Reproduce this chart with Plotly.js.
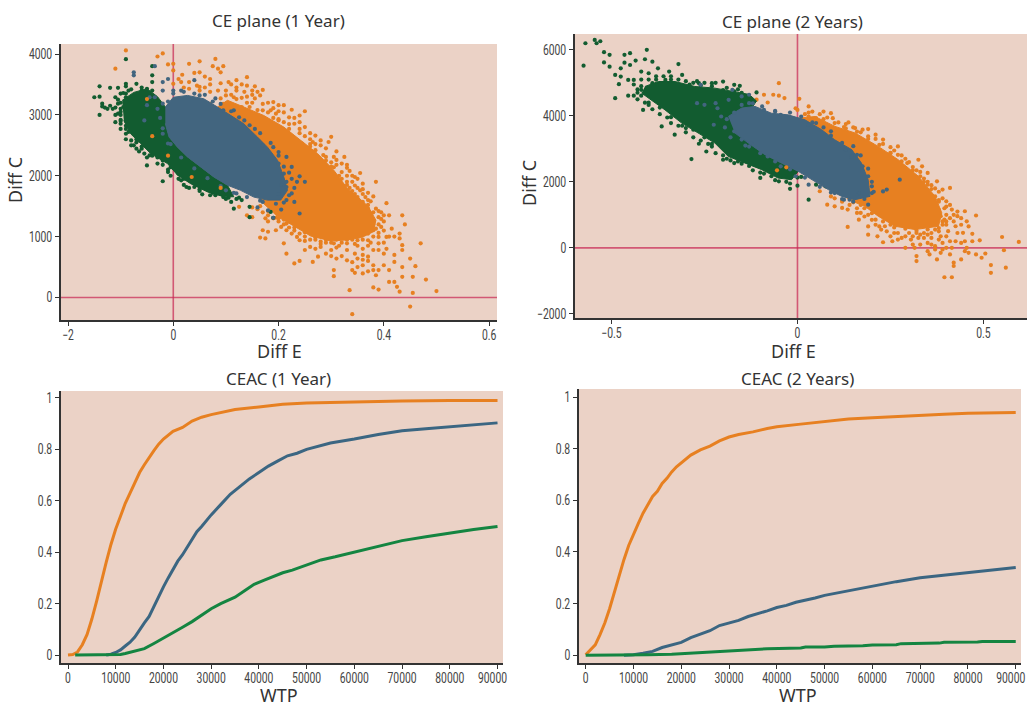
<!DOCTYPE html>
<html><head><meta charset="utf-8">
<script src="https://cdn.plot.ly/plotly-3.0.1.min.js"></script>
<style>html,body{margin:0;padding:0;background:#fff}#c{width:1027px;height:706px}</style>
</head><body><div id="c"></div>
<script>
// ---------- CE plane (1 Year): outline of each saturated cloud body, then individually read points ----------
const ce1OrangeBody=[[.084,3130],[.103,3240],[.134,3130],[.172,2990],[.21,2800],[.242,2580],[.274,2365],[.305,2090],[.331,1790],[.352,1640],[.37,1500],[.385,1270],[.38,1080],[.358,985],[.33,945],[.299,930],[.261,1010],[.229,1175],[.198,1330],[.172,1540],[.115,2145]];
const ce1GreenBody=[[-.097,3240],[-.075,3370],[-.05,3430],[-.03,3300],[-.015,3130],[-.015,2855],[-.008,2635],[.008,2470],[.027,2310],[.052,2145],[.077,1980],[.103,1845],[.115,1655],[.096,1655],[.065,1735],[.033,1870],[.008,2010],[-.011,2200],[-.043,2365],[-.062,2530],[-.081,2690],[-.094,2910]];
const ce1BlueBody=[[-.015,3130],[0,3290],[.027,3320],[.058,3265],[.084,3130],[.109,2990],[.134,2855],[.16,2635],[.179,2470],[.198,2255],[.21,1980],[.217,1760],[.204,1600],[.179,1600],[.153,1650],[.128,1760],[.103,1845],[.077,1980],[.052,2145],[.027,2310],[.008,2470],[-.008,2635],[-.015,2855]];
const ce1Orange=[[-.09,4060],[-.11,3760],[-.03,3960],[-.02,4010],[-.01,3830],[0,3840],[0,3730],[.03,3840],[.05,3880],[.08,3920],[.095,3800],[.075,3800],[.085,3760],[.09,3700],[.017,3660],[.01,3590],[.04,3690],[.05,3700],[.06,3630],[.07,3590],[.14,3620],[.12,3570],[.105,3540],[.14,3480],[.155,3470],[.17,3410],[.015,3540],[.03,3540],[.045,3480],[0,3510],[.05,3460],[.085,3400],[.1,3400],[.12,3400],[.135,3380],[.165,3320],[.155,3270],[.115,3290],[.09,3270],[.07,3180],[.095,3180],[.19,3210],[.2,3160],[.21,3160],[.225,3085],[.25,3060],[.24,2990],[.185,3075],[.195,3020],[.17,3075],[.145,3130],[.13,3130],[.11,3130],[.155,2965],[.14,3020],[.23,2855],[.21,2880],[.2,2910],[.24,2770],[.22,2770],[.25,2650],[.27,2660],[.265,2555],[.28,2500],[.3,2640],[.295,2555],[.245,2530],[.27,2420],[.305,2310],[.325,2310],[.29,2310],[.305,2140],[.32,2060],[.335,2080],[.355,2045],[.345,1980],[.305,1980],[.385,1900],[.36,1870],[.345,1840],[.355,1760],[.38,1660],[.36,1570],[.405,1550],[.37,1460],[.385,1460],[.4,1350],[.435,1350],[.44,1200],[.39,1320],[.375,1270],[.395,1160],[.415,1130],[.43,1050],[.43,970],[.405,995],[.39,995],[.47,890],[.435,860],[.435,780],[.405,800],[.39,890],[.37,940],[.36,800],[.35,940],[.33,890],[.32,995],[.345,720],[.37,670],[.33,610],[.31,640],[.36,530],[.38,530],[.4,530],[.42,585],[.45,640],[.46,515],[.435,500],[.385,365],[.36,395],[.345,405],[.305,450],[.305,350],[.455,340],[.435,340],[.48,295],[.41,255],[.42,255],[.425,175],[.43,95],[.38,165],[.39,130],[.335,120],[.455,75],[.5,105],[.45,-150],[.34,-275],[.15,1320],[.14,1350],[.175,1300],[.17,1105],[.18,1080],[.165,985],[.175,970],[.195,1105],[.215,1105],[.21,890],[.215,720],[.23,560],[.24,600],[.265,585],[.275,670],[.25,780],[.26,830],[.235,995],[.215,1215],[.24,940],[.28,830],[.3,780],[.285,995],[.305,890],[.335,1050],[.355,1050],[.38,1105],[.35,1320],[.375,1380],[.125,1490],[.19,1450],[.2,1300],[.22,1250],[.25,1150],[.27,1050],[.31,1050],[.37,1120],[.33,1000],[.35,1180],[.19,2950],[.17,2920],[.22,2650],[.26,2480],[.31,2180],[.33,1900],[.35,1650],[.37,1600],
[.11,3330],[.13,3280],[.15,3200],[.17,3180],[.19,3110],[.21,3040],[.23,2950],[.25,2800],[.26,2700],[.28,2580],[.29,2450],[.31,2400],[.32,2200],[.33,2000],[.34,1900],[.35,1800],[.36,1700],[.37,1520],[.38,1400],[.39,1200],[.38,1250],[.4,1100],[.38,1000],[.37,1050],[.36,950],[.35,1000],[.34,950],[.33,950],[.32,900],[.31,950],[.3,900],[.29,900],[.28,920],[.27,950],[.26,950],[.25,1000],[.24,1050],[.23,1100],[.22,1150],[.21,1200],[.2,1250],[.19,1300],[.18,1350],[.17,1400],[.16,1450],[.35,850],[.37,850],[.38,780],[.39,780],[.4,720],[.42,700],[.36,700],[.35,640],[.34,580],[.32,680],[.3,680],[.29,720],[.27,800],[.37,600],[.38,450],[.35,500],[.34,450],[.37,430],[.39,450],[.41,450],[.36,620],[.33,780],[.31,820],[.4,900],[.41,1000],[.4,1250],[.42,1000],[.395,1400],[.41,1350],[.06,3450],[.07,3500],[.09,3520],[.11,3500],[.12,3450],[.13,3500],[.15,3400],[.16,3380],[.02,3450],[.03,3430],[.05,3400],[.07,3380],[.1,3320],[.14,3300],[.15,3330],[.18,3200],[.2,3060],[.22,2960],[.24,2880],[.26,2600],[.27,2520],[.29,2250],[.31,2260],[.33,2180],[.34,1750],[.35,1950],[.36,1780],[.37,1720],
[.12,3260],[.14,3200],[.16,3080],[.18,3040],[.2,2930],[.22,2850],[.24,2700],[.26,2520],[.285,2340],[.3,2220],[.32,1950],[.335,1800],[.35,1600],[.365,1420],[.38,1200],[.37,1100],[.35,1010],[.33,1010],[.31,960],[.29,950],[.27,990],[.25,1070],[.23,1150],[.21,1280],[.195,1310],[.18,1420],[.165,1500],[.15,1480],[.36,1520],[.345,1700],[.33,1850],[.315,2000],[.3,2150],
[.395,1290],[.385,1130],[.39,1060],[.375,900],[.345,880],[.315,850],[.28,880],[.25,930],[.225,1050],[.205,1160],[.18,1250],[.33,2130],[.34,2000],[.365,1650],[.375,1580],[.39,1420]];
const ce1OrangeOver=[[-.04,2650],[-.01,2330],[.035,1980],[.09,1800],[-.05,3260]];
const ce1Green=[[-.15,3290],[-.14,3300],[-.14,3000],[-.14,3470],[-.12,3445],[-.135,3185],[-.135,3140],[-.125,3100],[-.115,3100],[-.105,3445],[-.09,3470],[-.09,3510],[-.07,3510],[-.09,3915],[-.04,3800],[-.04,3650],[-.04,3540],[-.11,3290],[-.1,3350],[-.105,3185],[-.105,3020],[-.11,2880],[-.1,2855],[-.1,2770],[-.09,2770],[-.09,2690],[-.08,2580],[-.07,2445],[-.06,2445],[-.055,2365],[-.045,2335],[-.05,2170],[-.03,2200],[-.02,1910],[-.01,2060],[-.005,2140],[.01,2035],[.015,1925],[.025,1815],[.04,1815],[.055,1695],[.07,1680],[.075,1790],[.095,1650],[.11,1570],[.115,1460],[.13,1600],[.145,1320],[.145,1490],[.185,1405],[.19,1310],[-.05,3430],[-.06,3400],[-.09,3290],[-.095,3130],[-.1,3000],[-.09,2900],[-.08,2800],[-.07,2600],[-.055,2500],[-.04,2380],[-.02,2250],[0,2130],[.02,1950],[.045,1900],[.075,1720],[.1,1700],[-.13,3120],[-.12,3150],[-.11,3120],[-.1,3200],[-.095,3360],[-.085,3400],[-.1,3100],[-.11,3000],[-.1,2920],[-.09,2600],[-.08,2500],[-.075,2500],[-.065,2400],[-.05,2300],[-.03,2300],[-.01,2100],[.01,1950],[.03,1800],[.05,1750],[.07,1750],[.09,1700],[.105,1640],[.12,1620],
[-.105,3250],[-.09,3350],[-.08,3420],[-.06,3450],[-.04,3400],[-.1,3050],[-.1,2900],[-.09,2820],[-.085,2720],[-.07,2550],[-.06,2480],[-.04,2330],[-.02,2180],[-.005,2000],[.02,1850],[.05,1780],[.08,1680],[.1,1620],[.125,1640]];
const ce1Blue=[[-.075,3700],[-.075,3650],[-.035,3800],[-.01,3590],[-.02,3540],[.04,3570],[.015,3400],[0,3400],[-.02,3400],[-.035,3290],[-.045,3290],[-.05,3160],[-.03,3100],[-.02,3185],[-.055,2910],[-.02,2690],[-.01,2530],[.05,3320],[.08,3270],[.095,3075],[.115,3075],[.135,2910],[.155,2770],[.17,2500],[.19,2470],[.2,2390],[.215,2310],[.2,2200],[.225,2145],[.21,2035],[.24,1990],[.25,1900],[.235,1900],[.215,1815],[.225,1710],[.215,1600],[.23,1570],[.24,1380],[.205,1445],[.18,1430],[.16,1480],[.19,1310],[.17,1570],[.12,1710],[.1,1760],
[0,3350],[.02,3380],[.04,3350],[.06,3330],[.075,3220],[.09,3180],[.11,3060],[.125,2960],[.145,2830],[.165,2700],[.185,2540],[.2,2330],[.21,2150],[.225,1950],[.23,1800],[.22,1680],[.21,1560],[.195,1540],[.165,1590],[.14,1650],[.115,1720],[.09,1830],[.065,1960],[.04,2120],[.015,2300],[-.005,2520],[-.02,2780],[-.025,2950],[-.01,3220],[.2,1700],[.205,1850],[.22,2050],[.215,1900]];

// ---------- CE plane (2 Years) ----------
const ce2OrangeBody=[[.002,3930],[.047,3980],[.101,3680],[.155,3480],[.217,3075],[.271,2670],[.325,2170],[.37,1560],[.388,1060],[.379,655],[.316,555],[.262,655],[.217,960],[.181,1260],[.137,1460],[.05,2500]];
const ce2GreenBody=[[-.41,4890],[-.374,5040],[-.329,5040],[-.276,4890],[-.222,4840],[-.177,4750],[-.13,4650],[-.11,4450],[-.15,3800],[-.132,3175],[-.087,2820],[-.043,2570],[.002,2320],[-.016,2065],[-.052,2115],[-.096,2370],[-.141,2570],[-.186,2770],[-.222,3175],[-.267,3480],[-.311,3780],[-.356,4180],[-.392,4485],[-.419,4690]];
const ce2BlueBody=[[-.186,3980],[-.15,4235],[-.114,4285],[-.07,4080],[-.025,4030],[.02,3880],[.065,3580],[.1,3275],[.146,2975],[.172,2570],[.19,2065],[.195,1560],[.154,1460],[.119,1560],[.083,1765],[.047,2015],[.002,2320],[-.043,2570],[-.087,2820],[-.132,3175],[-.168,3480]];
const ce2Orange=[[-.05,4990],[-.09,4640],[-.065,4640],[-.05,4610],[-.035,4540],[-.08,4405],[-.11,4490],[.005,4515],[.03,4285],[.04,4130],[.07,4130],[.09,4080],[.095,3930],[.05,3930],[0,4180],[-.005,4230],[.137,3800],[.125,3660],[.155,3630],[.175,3580],[.19,3380],[.21,3430],[.23,3280],[.2,3125],[.25,2870],[.27,3075],[.27,2820],[.295,2570],[.325,2670],[.335,2470],[.35,2270],[.33,2170],[.375,2015],[.35,1915],[.41,1815],[.39,1765],[.37,1560],[.4,1410],[.415,1160],[.45,1110],[.48,980],[.43,960],[.455,805],[.395,855],[.425,655],[.405,505],[.445,455],[.47,425],[.385,350],[.425,200],[.45,200],[.49,230],[.47,200],[.55,330],[.595,180],[.555,-70],[.56,-600],[.52,-520],[.52,-755],[.505,-170],[.48,-200],[.495,-300],[.455,0],[.415,0],[.4,0],[.44,-350],[.42,-450],[.42,-550],[.395,-890],[.415,-890],[.375,-350],[.355,-200],[.385,-150],[.32,-250],[.32,-400],[.29,0],[.315,0],[.35,150],[.305,250],[.255,200],[.23,170],[.215,350],[.19,400],[.27,450],[.325,300],[.37,50],[.19,650],[.165,855],[.135,635],[.16,1060],[.135,1160],[.12,1210],[.1,1260],[.08,1310],[.09,1560],[.06,1715],[.17,1060],[.21,855],[.235,655],[.3,450],[.34,450],[.385,960],[.37,555],[.225,555],[.3,650],[.36,800],[.38,1150],[.17,1300],[.19,1000],[.25,700],[.34,700],[.4,700],[.38,1400],
[.02,4050],[.03,4100],[.06,4050],[.08,3950],[.11,3800],[.13,3750],[.15,3650],[.17,3500],[.19,3600],[.21,3300],[.23,3150],[.25,3050],[.26,2950],[.28,2800],[.29,2700],[.3,2600],[.31,2450],[.32,2350],[.33,2300],[.34,2100],[.35,2000],[.36,1900],[.37,1800],[.38,1700],[.39,1500],[.4,1250],[.41,1300],[.42,1000],[.43,1100],[.44,900],[.41,900],[.4,800],[.42,800],[.39,700],[.38,500],[.36,450],[.35,400],[.34,300],[.33,400],[.32,450],[.31,350],[.29,350],[.28,300],[.26,450],[.24,500],[.22,650],[.21,700],[.2,850],[.18,950],[.16,1200],[.14,1300],[.12,1400],[.1,1500],[.38,250],[.39,150],[.41,200],[.4,350],[.43,450],[.44,700],[.46,650],[.36,100],[.37,-50],[.39,-50],[.36,300],[.35,-100],[.33,100],[.31,100],[.27,250],[.25,350],[.41,-200],[.44,150],[.45,-100],[.46,-150],
[.03,3980],[.07,3900],[.1,3780],[.13,3620],[.16,3520],[.19,3300],[.22,3120],[.25,2880],[.28,2620],[.31,2350],[.34,2000],[.36,1780],[.38,1450],[.395,1200],[.4,1000],[.39,800],[.38,600],[.35,560],[.32,520],[.29,580],[.26,620],[.23,800],[.2,1050],[.18,1200],[.15,1380],[.12,1450]];
const ce2OrangeOver=[[-.055,2350],[-.03,2440]];
const ce2Green=[[-.57,6200],[-.545,6300],[-.54,6200],[-.53,6260],[-.575,5520],[-.52,5930],[-.505,5850],[-.52,5620],[-.505,5490],[-.465,5850],[-.45,5900],[-.405,6000],[-.465,5610],[-.45,5540],[-.435,5675],[-.41,5715],[-.39,5640],[-.475,5440],[-.49,5240],[-.475,5190],[-.48,4960],[-.49,4535],[-.455,5090],[-.44,5090],[-.42,5340],[-.375,5440],[-.4,5290],[-.32,5570],[-.345,5340],[-.31,5240],[-.455,4610],[-.44,4610],[-.42,4610],[-.415,4180],[-.4,4330],[-.365,3680],[-.34,3780],[-.33,3430],[-.3,3630],[-.285,2690],[-.265,3155],[-.245,2920],[-.23,3070],[-.22,2870],[-.2,2670],[-.17,2570],[-.14,2670],[-.1,2120],[-.07,2170],[-.05,2015],[-.02,1790],[0,1885],[.03,1460],[-.2,5040],[-.17,4940],[-.155,4910],[-.23,4990],[-.265,4990],[-.11,4710],[-.14,4590],[-.4,4790],[-.42,4790],[-.39,4990],[-.355,5090],[-.29,4890],[.075,1865],[.05,1915],[-.38,4500],[-.36,4300],[-.33,4100],[-.3,3900],[-.27,3600],[-.24,3400],[-.2,3100],[-.16,2850],[-.11,2500],[-.07,2350],[-.03,2200],[-.4,5100],[-.36,5000],[-.32,5100],[-.28,5000],[-.24,4800],[-.15,4700],
[-.43,4800],[-.44,4950],[-.42,5100],[-.38,5200],[-.36,5200],[-.34,5200],[-.3,5050],[-.27,5050],[-.25,5000],[-.22,5000],[-.19,4850],[-.16,4800],[-.43,4500],[-.41,4400],[-.39,4200],[-.37,4050],[-.35,3950],[-.32,3700],[-.3,3500],[-.28,3350],[-.26,3250],[-.24,3150],[-.2,2800],[-.18,2650],[-.15,2550],[-.12,2350],[-.09,2250],[-.05,2200],[-.02,1950],[.01,2150],
[-.43,4700],[-.42,4900],[-.38,5100],[-.34,5100],[-.29,4950],[-.26,4920],[-.23,4900],[-.2,4780],[-.17,4740],[-.23,3150],[-.25,3350],[-.28,3580],[-.31,3700],[-.34,3960],[-.37,4250],[-.4,4400],[-.19,2700],[-.16,2620],[-.13,2480],[-.1,2280],[-.06,2050],[-.03,2000],[0,2130]];
const ce2Blue=[[-.26,4940],[-.175,4790],[-.15,4590],[-.13,4640],[-.22,4385],[-.25,4335],[-.27,4385],[-.225,3730],[-.205,3980],[-.215,4230],[-.185,4485],[-.17,3530],[-.15,3280],[-.125,3175],[-.13,4385],[-.095,4285],[-.06,4130],[-.045,4030],[.03,3730],[.05,3780],[.09,3530],[.13,2970],[.145,2770],[.16,2820],[.175,2470],[.19,2170],[.2,1660],[.19,1310],[.14,1460],[.125,1460],[.1,1660],[.23,1710],[.24,1765],[.275,2065],[.2,1865],[.03,1915],[.065,1965],[-.005,2170],[-.045,2470],[-.08,2770],[-.13,3070],[.165,1660],
[-.19,3900],[-.17,4100],[-.15,4330],[-.12,4380],[-.09,4180],[-.06,4150],[-.02,4100],[.01,3980],[.04,3800],[.07,3650],[.09,3400],[.12,3180],[.15,3080],[.17,2800],[.19,2400],[.2,2000],[.205,1700],[.18,1480],[.15,1400],[.12,1480],[.09,1680],[.06,1850],[.02,2130],[-.02,2380],[-.06,2620],[-.1,2870],[-.14,3100],[-.18,3350],[-.195,3650]];

// ---------- CEAC curves ----------
const wtpOrange1=[0,1000,2000,3000,4000,5000,6000,7000,8000,9000,10000,11000,12000,13000,14000,15000,16000,17000,18000,19000,20000,22000,24000,26000,28000,30000,35000,40000,45000,50000,60000,70000,80000,90000];
const ceac1Orange=[0,.002,.012,.04,.08,.14,.21,.29,.36,.43,.49,.54,.59,.63,.67,.71,.74,.77,.795,.82,.84,.87,.885,.91,.925,.935,.955,.965,.975,.98,.985,.988,.99,.99];
const wtpBlue1=[8000,9000,10000,11000,12000,13000,14000,15000,16000,17000,18000,19000,20000,21000,22000,23000,24000,25000,26000,27000,28000,30000,32000,34000,36000,38000,40000,42000,44000,46000,48000,50000,55000,60000,65000,70000,75000,80000,85000,90000];
const ceac1Blue=[0,.003,.01,.02,.035,.05,.07,.1,.125,.15,.19,.225,.265,.3,.335,.365,.39,.42,.455,.48,.5,.545,.585,.625,.655,.685,.71,.735,.755,.775,.785,.8,.825,.84,.858,.872,.88,.888,.897,.903];
const wtpGreen1=[1500,10000,11000,12000,14000,16000,18000,20000,22000,24000,26000,28000,30000,32000,35000,37000,39000,41000,43000,45000,47000,50000,53000,56000,60000,65000,70000,75000,80000,85000,90000];
const ceac1Green=[0,0,.002,.006,.015,.025,.045,.065,.085,.108,.13,.155,.18,.2,.225,.25,.275,.29,.305,.32,.33,.35,.37,.382,.4,.42,.445,.46,.475,.488,.5];
const wtpOrange2=[0,1000,2000,3000,4000,5000,6000,7000,8000,9000,10000,11000,12000,13000,14000,15000,16000,17000,18000,19000,20000,22000,24000,26000,28000,30000,32000,35000,38000,40000,45000,50000,55000,60000,65000,70000,75000,80000,85000,89000,90000];
const ceac2Orange=[.002,.02,.04,.08,.125,.18,.245,.31,.37,.425,.47,.51,.55,.585,.615,.635,.665,.685,.71,.73,.745,.775,.795,.81,.83,.845,.855,.865,.878,.885,.895,.905,.915,.92,.925,.93,.933,.937,.938,.94,.94];
const wtpBlue2=[8000,10000,12000,14000,16000,18000,20000,22000,24000,26000,28000,30000,32000,34000,36000,38000,40000,42000,44000,46000,48000,50000,55000,60000,65000,70000,75000,80000,85000,90000];
const ceac2Blue=[0,.002,.008,.015,.03,.04,.05,.068,.082,.095,.115,.125,.135,.15,.16,.172,.185,.193,.205,.213,.222,.232,.25,.268,.285,.3,.31,.322,.332,.34];
const wtpGreen2=[0,12000,13000,18000,20000,25000,28000,30000,35000,38000,45000,46000,50000,52000,58000,60000,65000,66000,74000,75000,82000,83000,90000];
const ceac2Green=[0,0,.002,.004,.006,.01,.014,.017,.02,.025,.028,.032,.032,.035,.037,.04,.041,.045,.047,.05,.051,.053,.053];

// ---------- tick labels and texts ----------
const ce1XVals=[-.2,0,.2,.4,.6], ce1XText=['−2','0','0.2','0.4','0.6'];
const ce1YVals=[0,1000,2000,3000,4000];
const ce2XVals=[-.5,0,.5], ce2XText=['−0.5','0','0.5'];
const ce2YVals=[-2000,0,2000,4000,6000], ce2YText=['−2000','0','2000','4000','6000'];
const wtpVals=[0,10000,20000,30000,40000,50000,60000,70000,80000,90000];
const wtpText=wtpVals.map(String);
const probVals=[0,.2,.4,.6,.8,1];

const W=1027,H=706;
const ORANGE='#E78021',GREEN='#125C30',BLUE='#42657F',LINEBLUE='#3B6682',LINEGREEN='#148541',BG='#EBD2C6',INK='#333333';
const TICKFONT={family:'Roboto,sans-serif',size:14,color:'#444'};
const TITLEFONT={family:'"Noto Sans",sans-serif',size:17,color:INK};
const AXTITLEFONT={family:'"Noto Sans",sans-serif',size:18,color:INK};

function pts(list,xa,ya,color){
  return {type:'scatter',mode:'markers',x:list.map(p=>p[0]),y:list.map(p=>p[1]),xaxis:xa,yaxis:ya,
    marker:{color:color,size:4.2,line:{width:0}},hoverinfo:'skip',showlegend:false};
}
function body(list,xa,ya,color){
  return {type:'scatter',mode:'lines',x:list.map(p=>p[0]),y:list.map(p=>p[1]),xaxis:xa,yaxis:ya,
    fill:'toself',fillcolor:color,line:{color:color,width:1},hoverinfo:'skip',showlegend:false};
}
function curve(x,y,xa,ya,color){
  return {type:'scatter',mode:'lines',x:x,y:y,xaxis:xa,yaxis:ya,line:{color:color,width:3},hoverinfo:'skip',showlegend:false};
}
function axis(l,r,t,b,isX,range,vals,text,anchor){
  const a={range:range,tickmode:'array',tickvals:vals,ticks:'outside',ticklen:4,tickwidth:1,tickcolor:INK,
    showline:true,linecolor:INK,linewidth:2,showgrid:false,zeroline:false,tickfont:TICKFONT,anchor:anchor,automargin:false,
    domain:isX?[l/W,r/W]:[1-b/H,1-t/H]};
  if(isX)a.ticklabeloverflow='allow';
  if(text)a.ticktext=text;
  return a;
}
const data=[
 pts(ce1Orange,'x','y',ORANGE),body(ce1OrangeBody,'x','y',ORANGE),
 pts(ce1Green,'x','y',GREEN),body(ce1GreenBody,'x','y',GREEN),
 body(ce1BlueBody,'x','y',BLUE),pts(ce1Blue,'x','y',BLUE),pts(ce1OrangeOver,'x','y',ORANGE),
 pts(ce2Orange,'x2','y2',ORANGE),body(ce2OrangeBody,'x2','y2',ORANGE),
 pts(ce2Green,'x2','y2',GREEN),body(ce2GreenBody,'x2','y2',GREEN),
 body(ce2BlueBody,'x2','y2',BLUE),pts(ce2Blue,'x2','y2',BLUE),pts(ce2OrangeOver,'x2','y2',ORANGE),
 curve(wtpOrange1,ceac1Orange,'x3','y3',ORANGE),curve(wtpBlue1,ceac1Blue,'x3','y3',LINEBLUE),curve(wtpGreen1,ceac1Green,'x3','y3',LINEGREEN),
 curve(wtpOrange2,ceac2Orange,'x4','y4',ORANGE),curve(wtpBlue2,ceac2Blue,'x4','y4',LINEBLUE),curve(wtpGreen2,ceac2Green,'x4','y4',LINEGREEN)
];
function refLines(xr,yr){
  const s={color:'rgba(200,40,85,0.72)',width:1.6};
  return [{type:'line',layer:'below',xref:xr,yref:yr+' domain',x0:0,x1:0,y0:0,y1:1,line:s},
          {type:'line',layer:'below',xref:xr+' domain',yref:yr,x0:0,x1:1,y0:0,y1:0,line:s}];
}
function label(text,x,y,font,angle){
  return {text:text,xref:'paper',yref:'paper',x:x/W,y:1-y/H,showarrow:false,xanchor:'center',yanchor:'middle',font:font,textangle:angle||0};
}
const layout={
  width:W,height:H,margin:{l:0,r:0,t:0,b:0},paper_bgcolor:'#fff',plot_bgcolor:BG,showlegend:false,
  xaxis: axis(61,497,0,0,true,[-.2133,.615],ce1XVals,ce1XText,'y'),
  yaxis: axis(0,0,44,320,false,[-370,4165],ce1YVals,null,'x'),
  xaxis2:axis(575,1027,0,0,true,[-.598,.617],ce2XVals,ce2XText,'y2'),
  yaxis2:axis(0,0,34,318,false,[-2125,6480],ce2YVals,ce2YText,'x2'),
  xaxis3:axis(61,503,0,0,true,[-1467,91150],wtpVals,wtpText,'y3'),
  yaxis3:axis(0,0,391,663,false,[-.031,1.027],probVals,null,'x3'),
  xaxis4:axis(579,1021,0,0,true,[-1400,91100],wtpVals,wtpText,'y4'),
  yaxis4:axis(0,0,389,663,false,[-.03,1.031],probVals,null,'x4'),
  shapes:[...refLines('x','y'),...refLines('x2','y2')],
  annotations:[
    label('CE plane (1 Year)',278,20,TITLEFONT),label('CE plane (2 Years)',792,22,TITLEFONT),
    label('CEAC (1 Year)',278,378,TITLEFONT),label('CEAC (2 Years)',797,378,TITLEFONT),
    label('Diff E',279,351,AXTITLEFONT),label('Diff E',793,351,AXTITLEFONT),
    label('Diff C',15,180,AXTITLEFONT,-90),label('Diff C',529,183,AXTITLEFONT,-90),
    label('WTP',279,695,AXTITLEFONT),label('WTP',798,695,AXTITLEFONT)
  ]
};
Plotly.newPlot('c',data,layout,{displayModeBar:false,staticPlot:true}).then(function(gd){
  // The reference sets its tick labels in a condensed face: narrow the real text to match.
  gd.querySelectorAll('.xtick text, .ytick text, .x2tick text, .y2tick text, .x3tick text, .y3tick text, .x4tick text, .y4tick text').forEach(function(t){
    t.setAttribute('lengthAdjust','spacingAndGlyphs');
    t.setAttribute('textLength',(t.getComputedTextLength()*0.74).toFixed(1));
    if(t.textContent==='90000')t.setAttribute('x',String(parseFloat(t.getAttribute('x'))-5));
  });
  gd.querySelectorAll('.xtick text, .x2tick text, .x3tick text, .x4tick text').forEach(function(t){
    t.setAttribute('y',String(parseFloat(t.getAttribute('y'))-3));
  });
});
</script>
</body></html>
